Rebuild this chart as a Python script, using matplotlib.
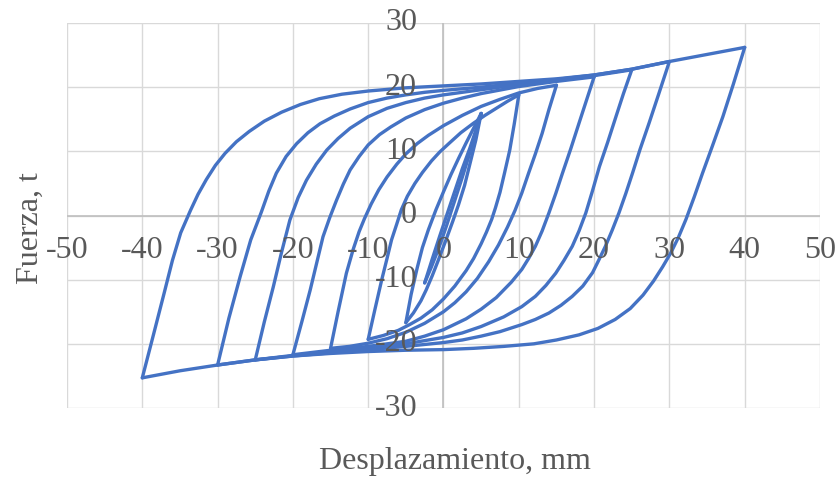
import matplotlib.pyplot as plt

# Ciclos de histéresis: rama de carga (sube) y de descarga (baja) por amplitud
up40_x = [-40, -38.5, -37.1, -36.0, -34.9, -33.6, -32.6, -31.5, -30.3, -29.0, -27.5, -25.8, -23.8, -21.5,
          -19.0, -16.5, -13.5, -10, -5, 0, 5, 10, 15, 20, 25, 30, 35, 40]
up40_y = [-25.3, -18.5, -12.1, -7.0, -2.7, 0.8, 3.3, 5.6, 7.8, 9.7, 11.5, 13.1, 14.7, 16.1,
          17.3, 18.2, 18.9, 19.4, 19.9, 20.2, 20.5, 20.9, 21.3, 21.9, 22.8, 24.0, 25.1, 26.2]
dn40_x = [40, 38.5, 37.1, 35.7, 34.4, 33.3, 32.2, 31.2, 30.2, 29.1, 27.9, 26.5, 24.8, 22.8, 20.5, 18, 15,
          12, 8, 4, 0, -5, -10, -15, -20, -25, -30, -35, -40]
dn40_y = [26.2, 20.5, 15.4, 10.8, 6.6, 2.9, -0.6, -3.4, -5.8, -8.0, -10.2, -12.4, -14.5, -16.2, -17.6, -18.6, -19.4,
          -20.0, -20.4, -20.7, -20.9, -21.0, -21.2, -21.5, -21.9, -22.5, -23.3, -24.2, -25.3]

up30_x = [-30, -28.5, -27.0, -25.6, -24.2, -23.2, -22.2, -20.9, -19.5, -18.0, -16.4, -14.5, -12.4, -10,
          -7.5, -5, -2.5, 0, 5, 10, 15, 20, 25, 30]
up30_y = [-23.3, -16.0, -9.5, -3.8, 0.5, 3.8, 6.6, 9.2, 11.2, 12.9, 14.3, 15.5, 16.6, 17.6,
          18.3, 18.8, 19.2, 19.5, 20.0, 20.6, 21.2, 21.9, 22.8, 24.0]
dn30_x = [30, 28.6, 27.3, 26.1, 25.1, 24.2, 23.3, 22.4, 21.5, 20.6, 19.8, 18.5, 17.1, 15.6, 14.0, 12.2,
          10.4, 7.5, 5, 2.5, 0, -5, -10, -15, -20, -25, -30]
dn30_y = [24.0, 19.0, 14.4, 10.3, 6.6, 3.4, 0.4, -2.3, -4.8, -7.0, -8.9, -11.0, -12.6, -14.0, -15.2, -16.2,
          -17.0, -18.1, -18.8, -19.4, -19.8, -20.4, -20.9, -21.4, -21.9, -22.5, -23.3]

up25_x = [-25, -23.8, -22.6, -21.5, -20.4, -19.3, -18.2, -16.9, -15.5, -14.0, -12.4, -10, -7.5, -5,
          -2.5, 0, 5, 10, 15, 20, 25]
up25_y = [-22.5, -16.6, -11.1, -5.7, -0.7, 2.8, 5.5, 8.0, 10.2, 12.0, 13.6, 15.4, 16.7, 17.6,
          18.3, 18.8, 19.6, 20.4, 21.0, 21.8, 22.7]
dn25_x = [25, 23.9, 22.9, 21.8, 20.7, 19.8, 18.9, 18.0, 17.1, 16.0, 14.9, 13.6, 12.2, 10.4, 8, 5,
          2.5, 0, -5, -10, -15, -20, -25]
dn25_y = [22.7, 19.0, 15.4, 11.4, 7.6, 3.9, 0.4, -2.4, -4.8, -7.0, -9.0, -10.9, -12.6, -14.2, -15.8, -17.3,
          -18.3, -19.0, -20.0, -20.6, -21.2, -21.8, -22.5]

up20_x = [-20, -18.8, -17.7, -16.8, -16.0, -15.1, -14.2, -13.3, -12.4, -11.2, -10, -8.5, -7, -5,
          -2.5, 0, 2.5, 5, 10, 15, 20]
up20_y = [-21.7, -16.5, -11.6, -7.2, -3.3, -0.3, 2.4, 4.9, 7.1, 9.2, 11.0, 12.6, 13.8, 15.2,
          16.5, 17.5, 18.3, 19.0, 20.1, 20.9, 21.6]
dn20_x = [20, 19.0, 18.0, 16.9, 15.8, 14.9, 14.0, 13.1, 12.2, 11.3, 10.4, 9, 7, 5, 3, 0, -2.5,
          -5, -10, -15, -20]
dn20_y = [21.6, 18.0, 14.4, 10.4, 6.6, 3.4, 0.4, -2.4, -4.8, -6.7, -8.4, -10.4, -12.8, -14.6, -16.1, -17.8, -18.8,
          -19.6, -20.4, -21.0, -21.7]

up15_x = [-15, -14.0, -12.9, -12.0, -11.2, -10.5, -9.6, -8.6, -7.5, -6.2, -5, -3.5, -2, 0, 2.5, 5,
          7.5, 10, 12.5, 15]
up15_y = [-20.7, -15.0, -9.0, -5.3, -2.5, -0.5, 1.8, 4.0, 6.0, 8.0, 9.6, 11.2, 12.5, 14.0, 15.6, 17.0,
          18.1, 19.1, 19.8, 20.3]
dn15_x = [15, 14.0, 13.1, 12.2, 11.3, 10.4, 9.5, 8.5, 7.3, 6, 4.5, 3, 1.5, 0, -2.5, -5, -7.5,
          -10, -12.5, -15]
dn15_y = [20.3, 16.5, 12.8, 9.6, 6.6, 3.5, 0.8, -1.8, -4.6, -7.2, -9.8, -11.9, -13.6, -15.0, -16.8, -18.2, -19.2,
          -19.9, -20.4, -20.7]

up10_x = [-10, -9.1, -8.2, -7.5, -6.9, -6.2, -5.6, -4.8, -3.8, -2.8, -1.6, -0.5, 0.7, 2.3, 4, 5.5,
          7, 8.5, 10]
up10_y = [-19.3, -14.6, -10.0, -6.7, -3.8, -1.3, 0.9, 3.0, 5.0, 6.7, 8.5, 9.9, 11.2, 12.9, 14.4, 15.6,
          16.7, 17.8, 18.8]
dn10_x = [10, 9.4, 8.8, 8.1, 7.5, 6.9, 6.4, 5.7, 5, 4, 3, 1.5, 0, -1.5, -3, -4.5, -6, -8, -10]
dn10_y = [18.8, 14.3, 10.2, 6.6, 3.6, 1.2, -0.6, -2.6, -4.4, -6.7, -8.6, -11.0, -13.0, -14.7, -16.0, -17.0,
          -17.9, -18.7, -19.3]

up5_x = [-5, -4.3, -3.5, -2.8, -2, -1, 0, 1, 2, 3, 4, 5]
up5_y = [-16.7, -12.3, -8.2, -5.0, -2.2, 0.9, 3.7, 6.4, 8.9, 11.3, 13.6, 15.9]
dn5_x = [5, 4.3, 3.5, 2.8, 2, 1.2, 0.3, -0.7, -1.5, -2.3, -3, -4, -5]
dn5_y = [15.9, 11.8, 8.0, 4.7, 1.7, -1.0, -3.9, -7.0, -9.4, -11.6, -13.3, -15.2, -16.7]

up2_x = [-2.5, -1.5, -0.5, 0.5, 1.5, 2.5, 3.5, 4.3, 5]
up2_y = [-10.5, -6.8, -3.2, 0.3, 3.8, 7.3, 10.5, 13.3, 15.9]
dn2_x = [5, 4.2, 3.3, 2.4, 1.4, 0.4, -0.6, -1.6, -2.5]
dn2_y = [15.9, 12.5, 9.0, 5.6, 2.0, -1.6, -5.0, -8.0, -10.5]

x_ticks = [-50, -40, -30, -20, -10, 0, 10, 20, 30, 40, 50]
y_ticks = [-30, -20, -10, 0, 10, 20, 30]

branches = [
    (up40_x, up40_y), (dn40_x, dn40_y), (up30_x, up30_y), (dn30_x, dn30_y),
    (up25_x, up25_y), (dn25_x, dn25_y), (up20_x, up20_y), (dn20_x, dn20_y),
    (up15_x, up15_y), (dn15_x, dn15_y), (up10_x, up10_y), (dn10_x, dn10_y),
    (up5_x, up5_y), (dn5_x, dn5_y), (up2_x, up2_y), (dn2_x, dn2_y),
]

plt.rcParams['font.family'] = 'Liberation Serif'
fig = plt.figure(figsize=(8.36, 4.78), dpi=100)
ax = fig.add_axes([67 / 836, 1 - 408 / 478, 753 / 836, 385 / 478])

for bx, by in branches:
    ax.plot(bx, by, color='#4472C4', lw=2.4, solid_joinstyle='round',
            solid_capstyle='round', zorder=3)

ax.set_xlim(-50, 50)
ax.set_ylim(-30, 30)
ax.set_xticks(x_ticks)
ax.set_yticks(y_ticks)
ax.tick_params(length=0, labelbottom=False, labelleft=False)
ax.grid(True, color='#D9D9D9', lw=1.0, zorder=0)
ax.set_axisbelow(True)
for s in ax.spines.values():
    s.set_visible(False)
ax.axhline(0, color='#BFBFBF', lw=1.2, zorder=1)
ax.axvline(0, color='#BFBFBF', lw=1.2, zorder=1)

# etiquetas junto a los ejes que cruzan en cero (estilo Excel)
for v in x_ticks:
    ax.annotate(str(v), xy=(v, 0), xytext=(0, -14.5), textcoords='offset points',
                ha='center', va='top', fontsize=23, color='#595959', zorder=5)
for v in y_ticks:
    ax.annotate(str(v), xy=(0, v), xytext=(-19, 0), textcoords='offset points',
                ha='right', va='center', fontsize=23, color='#595959', zorder=5)

fig.text(455 / 836, 1 - 462 / 478, 'Desplazamiento, mm', ha='center', va='center',
         fontsize=23, color='#595959')
fig.text(30 / 836, 1 - 228 / 478, 'Fuerza, t', ha='center', va='center',
         rotation=90, fontsize=23, color='#595959')

fig.savefig('out.png', dpi=100)
